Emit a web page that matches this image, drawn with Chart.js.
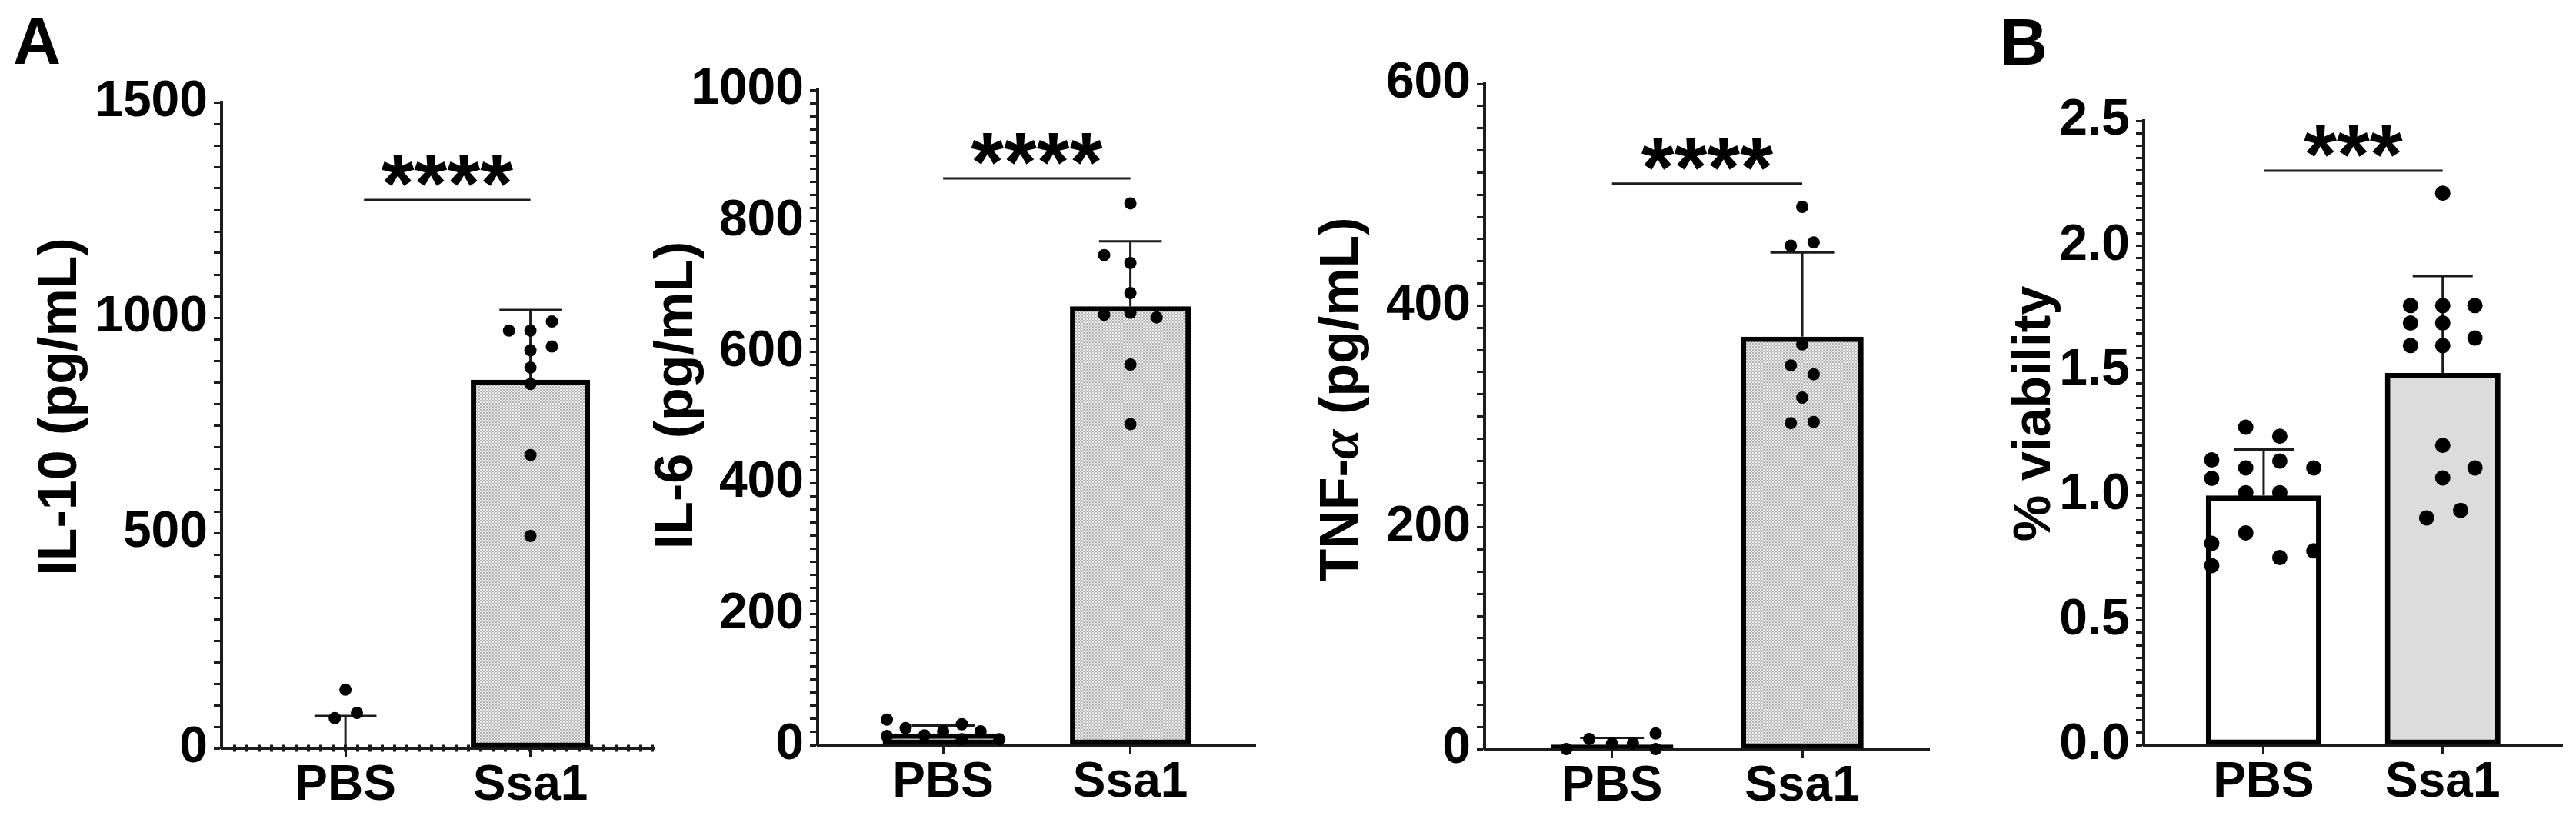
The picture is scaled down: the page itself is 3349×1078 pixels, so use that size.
<!DOCTYPE html>
<html>
<head>
<meta charset="utf-8">
<script src="https://cdn.jsdelivr.net/npm/chart.js@4.4.1/dist/chart.umd.min.js"></script>
<style>
  html, body { margin: 0; padding: 0; background: #fff; }
  #wrap { position: relative; width: 3349px; height: 1078px; overflow: hidden; }
  #wrap canvas { position: absolute; left: 0; top: 0; }
</style>
</head>
<body>
<div id="wrap">
  <canvas id="il10" width="3349" height="1078"></canvas>
  <canvas id="il6" width="3349" height="1078"></canvas>
  <canvas id="tnf" width="3349" height="1078"></canvas>
  <canvas id="viab" width="3349" height="1078"></canvas>
</div>
<script>
// === Data ===
const categories = ["PBS", "Ssa1"];

// IL-10 (pg/mL)
const il10Ticks = [0, 500, 1000, 1500];
const il10Means = [0, 856];
const il10Sd = [75, 162];
const il10PbsPoints = [136, 70, 82];
const il10PbsJitter = [0, -0.058, 0.062];
const il10Ssa1Points = [970, 970, 991, 924, 933, 884, 846, 681, 493];
const il10Ssa1Jitter = [-0.116, 0, 0.116, 0, 0.116, 0, 0, 0, 0];

// IL-6 (pg/mL)
const il6Ticks = [0, 200, 400, 600, 800, 1000];
const il6Means = [18, 670];
const il6Sd = [12, 99];
const il6PbsPoints = [39, 14, 26, 15, 21, 32, 9, 21, 9];
const il6PbsJitter = [-0.3, -0.3, -0.2, -0.1, 0, 0.1, 0.1, 0.2, 0.3];
const il6Ssa1Points = [827, 748, 736, 690, 657, 660, 653, 581, 490];
const il6Ssa1Jitter = [0, -0.14, 0, 0, -0.14, 0, 0.14, 0, 0];

// TNF-alpha (pg/mL)
const tnfTicks = [0, 200, 400, 600];
const tnfMeans = [4, 372];
const tnfSd = [6, 76];
const tnfPbsPoints = [0, 9, 5, 5, 14, 0];
const tnfPbsJitter = [-0.24, -0.12, 0, 0.11, 0.23, 0.23];
const tnfSsa1Points = [489, 454, 457, 365, 346, 338, 317, 294, 295];
const tnfSsa1Jitter = [0, -0.06, 0.06, 0, -0.06, 0.06, 0, -0.06, 0.06];

// % viability
const viabTicks = [0, 0.5, 1.0, 1.5, 2.0, 2.5];
const viabMeans = [1.0, 1.49];
const viabSd = [0.184, 0.388];
const viabPbsPoints = [1.273, 1.237, 1.142, 1.11, 1.138, 1.11, 1.068, 1.011, 1.011, 0.85, 0.808, 0.778, 0.751, 0.719];
const viabPbsJitter = [-0.1, 0.09, -0.29, -0.1, 0.09, 0.28, -0.29, -0.1, 0.09, -0.1, -0.29, 0.28, 0.09, -0.29];
const viabSsa1Points = [2.21, 1.76, 1.76, 1.76, 1.69, 1.69, 1.6, 1.6, 1.63, 1.2, 1.11, 1.07, 0.91, 0.94];
const viabSsa1Jitter = [0, -0.18, 0, 0.18, -0.18, 0, -0.18, 0, 0.18, 0, 0.18, 0, -0.09, 0.1];

// significance brackets
const sigLabels = ["****", "****", "****", "***"];
const sigHeights = [1273, 865, 510, 2.3];
const sigStarts = [0.1, 0, 0, 0];

// === Drawing helpers ===
const FONT = "'Liberation Sans', Arial, Helvetica, sans-serif";
const W = 3349, H = 1078, YW = 220, XH = 100;
const INK = "#1c1c1c";

Chart.defaults.font.family = FONT;
Chart.defaults.color = "#111";

// stippled fill used by the GraphPad-style bars in panel A
function stipple() {
  const c = document.createElement("canvas");
  c.width = 4; c.height = 4;
  const g = c.getContext("2d");
  g.fillStyle = "#f0f0f0"; g.fillRect(0, 0, 4, 4);
  g.fillStyle = "#b0b0b0";
  g.fillRect(0, 0, 2, 2); g.fillRect(2, 2, 2, 2);
  return g.createPattern(c, "repeat");
}

// error bars (mean + SD, upward only)
const errorBars = {
  id: "errorBars",
  afterDatasetDraw(chart, args) {
    if (args.meta.type !== "bar") return;
    const ds = chart.data.datasets[args.index];
    const y = chart.scales.y, c = chart.ctx;
    c.save();
    c.strokeStyle = INK; c.lineWidth = 3;
    args.meta.data.forEach((bar, i) => {
      const base = y.getPixelForValue(ds.data[i].y);
      const top = y.getPixelForValue(ds.data[i].y + ds.errors[i]);
      const half = bar.width * 0.26;
      c.beginPath();
      c.moveTo(bar.x, base); c.lineTo(bar.x, top);
      c.moveTo(bar.x - half, top); c.lineTo(bar.x + half, top);
      c.stroke();
    });
    c.restore();
  },
};

// dotted zero line (panel IL-10 only)
const zeroLine = {
  id: "zeroLine",
  beforeDatasetsDraw(chart, _a, o) {
    if (!o.show) return;
    const { left, right } = chart.chartArea, c = chart.ctx;
    const y0 = chart.scales.y.getPixelForValue(0);
    c.save();
    c.strokeStyle = INK; c.lineWidth = 9; c.setLineDash([4, 12]);
    c.beginPath(); c.moveTo(left + 15, y0); c.lineTo(right, y0); c.stroke();
    c.restore();
  },
};

// significance bar + asterisks
const sigBar = {
  id: "sigBar",
  afterDraw(chart, _a, o) {
    if (!o.text) return;
    const x = chart.scales.x, y = chart.scales.y, c = chart.ctx;
    const x1 = x.getPixelForValue(o.from), x2 = x.getPixelForValue(o.to);
    const yy = y.getPixelForValue(o.y);
    c.save();
    c.strokeStyle = INK; c.lineWidth = 3;
    c.beginPath(); c.moveTo(x1, yy); c.lineTo(x2, yy); c.stroke();
    c.font = "bold 110px " + FONT;
    c.fillStyle = "#000"; c.textAlign = "center"; c.textBaseline = "alphabetic";
    const m = c.measureText(o.text);
    c.fillText(o.text, (x1 + x2) / 2, yy - 18 - m.actualBoundingBoxDescent);
    c.restore();
  },
};

// rotated y title (allows the italic alpha) and panel letter
const labels = {
  id: "labels",
  afterDraw(chart, _a, o) {
    const c = chart.ctx, a = chart.chartArea;
    c.save();
    c.fillStyle = "#000";
    if (o.letter) {
      c.font = "bold 86px " + FONT;
      c.textAlign = "center"; c.textBaseline = "middle";
      c.fillText(o.letter, a.left + o.letterDx, a.top + o.letterDy);
    }
    const segs = o.title;
    let total = 0;
    segs.forEach((s) => { c.font = s.f; total += c.measureText(s.t).width; });
    c.translate(a.left + o.dx, (a.top + a.bottom) / 2 + o.dy);
    c.rotate(-Math.PI / 2);
    c.textAlign = "left"; c.textBaseline = "alphabetic";
    let cx = -total / 2;
    segs.forEach((s) => { c.font = s.f; c.fillText(s.t, cx, 0); cx += c.measureText(s.t).width; });
    c.restore();
  },
};

function makePanel(id, p) {
  const ctx = document.getElementById(id).getContext("2d");
  const scatter = [];
  p.points.forEach((vals, g) =>
    vals.forEach((v, i) => scatter.push({ x: g + p.jitter[g][i], y: v }))
  );
  const isMajor = (v) => p.majors.some((m) => Math.abs(m - v) < 1e-6);

  return new Chart(ctx, {
    type: "bar",
    data: {
      datasets: [
        {
          type: "scatter",
          data: scatter,
          order: 0,
          pointRadius: p.dot,
          pointBackgroundColor: "#000",
          pointBorderWidth: 0,
          clip: false,
        },
        {
          type: "bar",
          data: p.means.map((m, g) => ({ x: g, y: m })),
          errors: p.sd,
          order: 1,
          backgroundColor: p.fills,
          borderColor: "#000",
          borderWidth: 7,
          borderSkipped: false,
          barPercentage: 0.645,
          categoryPercentage: 1,
        },
      ],
    },
    options: {
      responsive: false,
      animation: false,
      devicePixelRatio: 1,
      events: [],
      layout: {
        padding: {
          left: p.box.left - YW,
          top: p.box.top,
          right: W - p.box.right,
          bottom: H - p.box.bottom - XH,
        },
      },
      plugins: {
        legend: { display: false },
        tooltip: { enabled: false },
        zeroLine: { show: !!p.dotted },
        sigBar: p.sig,
        labels: p.labels,
      },
      scales: {
        x: {
          type: "linear",
          min: -0.67,
          max: 1.667,
          offset: false,
          afterBuildTicks: (s) => { s.ticks = categories.map((_, i) => ({ value: i })); },
          afterFit: (s) => { s.height = XH; },
          ticks: {
            autoSkip: false,
            maxRotation: 0,
            padding: 5,
            color: "#000",
            font: { size: 64, weight: "bold", lineHeight: 1 },
            callback: (v) => categories[v] ?? "",
          },
          grid: { offset: false, drawOnChartArea: false, tickLength: 12, tickWidth: 3, tickColor: INK },
          border: { display: true, width: 3, color: INK },
        },
        y: {
          type: "linear",
          min: 0,
          max: p.majors[p.majors.length - 1],
          afterBuildTicks: (s) => {
            const t = [];
            const n = Math.round(s.max / p.minor);
            for (let k = 0; k <= n; k++) t.push({ value: +(k * p.minor).toFixed(4) });
            s.ticks = t;
          },
          afterFit: (s) => { s.width = YW; },
          ticks: {
            autoSkip: false,
            padding: 8,
            color: "#000",
            font: { size: 66, weight: "bold", lineHeight: 1 },
            callback: (v) => (isMajor(v) ? v.toFixed(p.decimals) : ""),
          },
          grid: { drawOnChartArea: false, tickLength: 10, tickWidth: 3, tickColor: INK },
          border: { display: true, width: 4, color: INK },
        },
      },
    },
    plugins: [zeroLine, errorBars, sigBar, labels],
  });
}

const dots = stipple();
const bold70 = "bold 70px " + FONT;

makePanel("il10", {
  box: { left: 288, top: 133, right: 850, bottom: 973 },
  majors: il10Ticks, minor: 50, decimals: 0,
  means: il10Means, sd: il10Sd,
  points: [il10PbsPoints, il10Ssa1Points],
  jitter: [il10PbsJitter, il10Ssa1Jitter],
  fills: [dots, dots], dot: 8, dotted: true,
  sig: { text: sigLabels[0], from: sigStarts[0], to: 1, y: sigHeights[0] },
  labels: {
    title: [{ t: "IL-10 (pg/mL)", f: bold70 }], dx: -189, dy: -24,
    letter: "A", letterDx: -240, letterDy: -74,
  },
});

makePanel("il6", {
  box: { left: 1063, top: 117, right: 1632, bottom: 969 },
  majors: il6Ticks, minor: 20, decimals: 0,
  means: il6Means, sd: il6Sd,
  points: [il6PbsPoints, il6Ssa1Points],
  jitter: [il6PbsJitter, il6Ssa1Jitter],
  fills: [dots, dots], dot: 8,
  sig: { text: sigLabels[1], from: sigStarts[1], to: 1, y: sigHeights[1] },
  labels: { title: [{ t: "IL-6 (pg/mL)", f: bold70 }], dx: -163, dy: -29 },
});

makePanel("tnf", {
  box: { left: 1930, top: 109, right: 2508, bottom: 974 },
  majors: tnfTicks, minor: 20, decimals: 0,
  means: tnfMeans, sd: tnfSd,
  points: [tnfPbsPoints, tnfSsa1Points],
  jitter: [tnfPbsJitter, tnfSsa1Jitter],
  fills: [dots, dots], dot: 8,
  sig: { text: sigLabels[2], from: sigStarts[2], to: 1, y: sigHeights[2] },
  labels: {
    title: [
      { t: "TNF-", f: bold70 },
      { t: "α", f: "italic bold 70px 'Liberation Serif', serif" },
      { t: " (pg/mL)", f: bold70 },
    ],
    dx: -165, dy: -22,
  },
});

makePanel("viab", {
  box: { left: 2787, top: 157, right: 3331, bottom: 969 },
  majors: viabTicks, minor: 0.05, decimals: 1,
  means: viabMeans, sd: viabSd,
  points: [viabPbsPoints, viabSsa1Points],
  jitter: [viabPbsJitter, viabSsa1Jitter],
  fills: ["#ffffff", "#dcdcdc"], dot: 10,
  sig: { text: sigLabels[3], from: sigStarts[3], to: 1, y: sigHeights[3] },
  labels: {
    title: [{ t: "% viability", f: "bold 68px " + FONT }], dx: -122, dy: -25,
    letter: "B", letterDx: -156, letterDy: -97,
  },
});
</script>
</body>
</html>
